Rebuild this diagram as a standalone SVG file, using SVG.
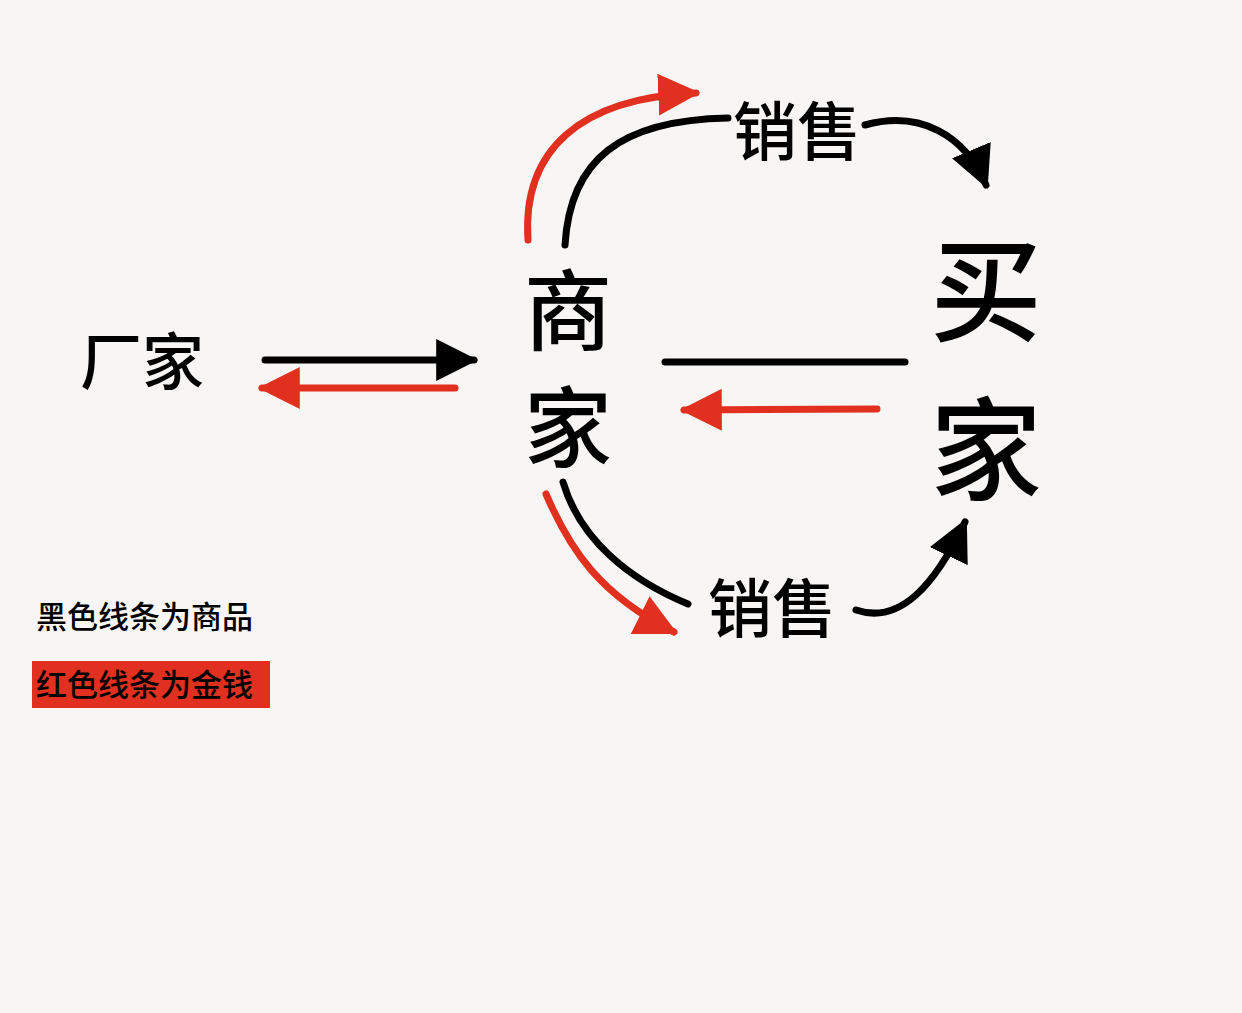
<svg xmlns="http://www.w3.org/2000/svg" width="1242" height="1013" viewBox="0 0 1242 1013">
<defs>
<style>
text{font-family:"Noto Sans CJK SC","Noto Sans",sans-serif;fill:#000;font-weight:500}
.k{stroke:#000;stroke-width:7;fill:none;stroke-linecap:round}
.r{stroke:#e1301f;stroke-width:7;fill:none;stroke-linecap:round}
</style>
<marker id="ak" viewBox="0 0 10 10" refX="9" refY="5" markerWidth="6" markerHeight="6" orient="auto" markerUnits="strokeWidth"><path d="M0,0 L10,5 L0,10 Z" fill="#000"/></marker>
<marker id="ar" viewBox="0 0 10 10" refX="9" refY="5" markerWidth="6" markerHeight="6" orient="auto" markerUnits="strokeWidth"><path d="M0,0 L10,5 L0,10 Z" fill="#e1301f"/></marker>
</defs>
<rect width="1242" height="1013" fill="#f7f6f4"/>
<g id="changjia"><text x="80" y="385" font-size="62">厂家</text></g>
<g id="shangjia"><text x="524" y="343" font-size="88">商</text><text x="524" y="460" font-size="88">家</text></g>
<g id="maijia"><text x="930" y="333" font-size="112">买</text><text x="930" y="492" font-size="112">家</text></g>
<g id="xiaoshou1"><text x="733" y="155" font-size="64">销售</text></g>
<g id="xiaoshou2"><text x="708" y="632" font-size="64">销售</text></g>
<g id="legend">
<text x="36" y="628" font-size="31">黑色线条为商品</text>
<rect x="32" y="661" width="238" height="47" fill="#e1301f"/>
<text x="36" y="696" font-size="31">红色线条为金钱</text>
</g>
<g id="connectors">
<path class="k" d="M265,360 L474,360" marker-end="url(#ak)"/>
<path class="r" d="M455,388 L262,388" marker-end="url(#ar)"/>
<path class="k" d="M665,362 L905,362"/>
<path class="r" d="M877,409 L684,410" marker-end="url(#ar)"/>
<path class="k" d="M565,245 C570,160 620,120 728,118"/>
<path class="r" d="M528,240 C522,150 580,98 696,93" marker-end="url(#ar)"/>
<path class="k" d="M865,125 C920,110 965,135 986,185" marker-end="url(#ak)"/>
<path class="k" d="M563,482 C580,540 630,580 688,604"/>
<path class="r" d="M546,494 C570,550 600,595 674,632" marker-end="url(#ar)"/>
<path class="k" d="M856,610 C900,625 935,585 965,522" marker-end="url(#ak)"/>
</g>
</svg>
